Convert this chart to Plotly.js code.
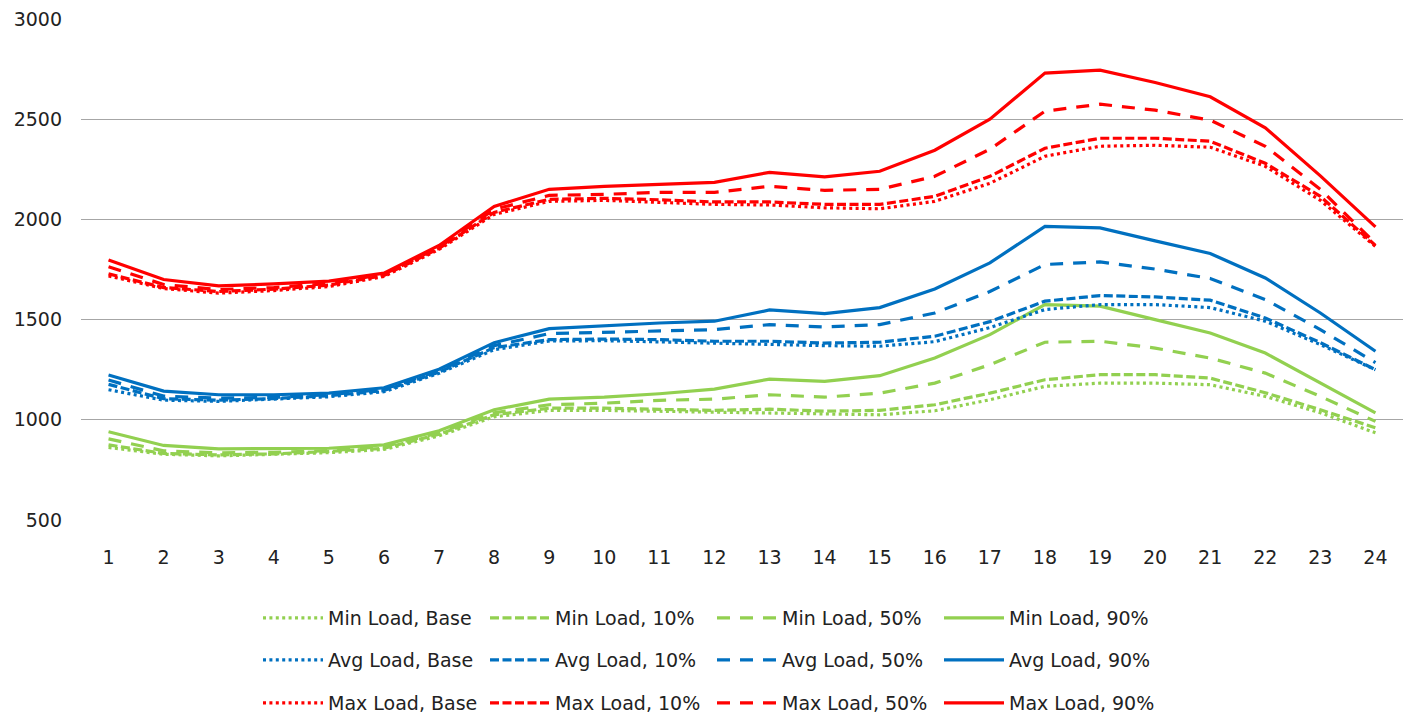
<!DOCTYPE html>
<html>
<head>
<meta charset="utf-8">
<script src="https://cdn.plot.ly/plotly-3.0.1.min.js"></script>
<style>
html,body{margin:0;padding:0;background:#fff;}
#chart{width:1404px;height:716px;}
</style>
</head>
<body>
<div id="chart"></div>
<script>
// Hours of the day
const hours = [1,2,3,4,5,6,7,8,9,10,11,12,13,14,15,16,17,18,19,20,21,22,23,24];

// Min Load series
const minBase = [862, 828, 820, 826, 836, 852, 920, 1015, 1047, 1047, 1042, 1037, 1033, 1030, 1025, 1045, 1100, 1167, 1183, 1183, 1175, 1117, 1035, 935];
const min10   = [875, 832, 825, 830, 842, 858, 928, 1025, 1058, 1058, 1052, 1047, 1053, 1043, 1047, 1075, 1133, 1200, 1225, 1225, 1208, 1135, 1050, 960];
const min50   = [905, 845, 835, 838, 846, 866, 935, 1035, 1075, 1083, 1097, 1103, 1125, 1113, 1133, 1183, 1275, 1387, 1392, 1358, 1308, 1233, 1117, 992];
const min90   = [940, 872, 855, 855, 858, 875, 945, 1050, 1103, 1113, 1130, 1153, 1203, 1192, 1220, 1308, 1425, 1575, 1567, 1500, 1433, 1333, 1183, 1035];

// Avg Load series
const avgBase = [1150, 1098, 1092, 1102, 1115, 1140, 1232, 1350, 1393, 1395, 1388, 1380, 1375, 1370, 1367, 1390, 1460, 1550, 1575, 1575, 1560, 1492, 1375, 1250];
const avg10   = [1177, 1105, 1098, 1106, 1120, 1146, 1238, 1360, 1400, 1403, 1400, 1392, 1392, 1383, 1387, 1417, 1490, 1592, 1620, 1613, 1597, 1508, 1385, 1250];
const avg50   = [1199, 1118, 1108, 1112, 1125, 1152, 1245, 1370, 1430, 1437, 1447, 1450, 1475, 1463, 1475, 1533, 1640, 1775, 1788, 1752, 1705, 1600, 1450, 1285];
const avg90   = [1224, 1143, 1125, 1125, 1133, 1160, 1252, 1385, 1455, 1470, 1483, 1492, 1548, 1530, 1560, 1653, 1783, 1965, 1958, 1893, 1830, 1708, 1533, 1342];

// Max Load series
const maxBase = [1718, 1655, 1632, 1645, 1665, 1715, 1850, 2025, 2090, 2095, 2085, 2075, 2072, 2058, 2053, 2090, 2180, 2315, 2365, 2370, 2360, 2265, 2095, 1865];
const max10   = [1728, 1660, 1640, 1652, 1672, 1720, 1855, 2035, 2100, 2105, 2098, 2087, 2087, 2075, 2075, 2115, 2215, 2355, 2405, 2405, 2390, 2280, 2115, 1870];
const max50   = [1764, 1675, 1650, 1660, 1680, 1726, 1860, 2050, 2120, 2125, 2135, 2135, 2165, 2145, 2150, 2215, 2350, 2540, 2575, 2545, 2495, 2365, 2150, 1880];
const max90   = [1797, 1700, 1668, 1678, 1692, 1732, 1870, 2065, 2150, 2165, 2175, 2185, 2235, 2212, 2240, 2345, 2500, 2730, 2745, 2683, 2612, 2457, 2217, 1963];

const xTickLabels = hours.map(String);
const yTickVals = [500, 1000, 1500, 2000, 2500, 3000];

const GREEN = '#92D050', BLUE = '#0070C0', RED = '#FF0000';
const LW = 3.2;
const DASH = {
  base: '3px,3.4px',
  p10: '9px,3.5px',
  p50: '13px,10px',
  p90: 'solid'
};

const groups = [
  {name: 'Min Load', color: GREEN, legend: 'legend',  data: [minBase, min10, min50, min90]},
  {name: 'Avg Load', color: BLUE,  legend: 'legend2', data: [avgBase, avg10, avg50, avg90]},
  {name: 'Max Load', color: RED,   legend: 'legend3', data: [maxBase, max10, max50, max90]}
];
const suffixes = ['Base', '10%', '50%', '90%'];
const dashes = [DASH.base, DASH.p10, DASH.p50, DASH.p90];

const traces = [];
groups.forEach(g => {
  g.data.forEach((vals, i) => {
    traces.push({
      type: 'scatter',
      mode: 'lines',
      x: hours,
      y: vals,
      name: g.name + ', ' + suffixes[i],
      legend: g.legend,
      line: {color: g.color, width: LW, dash: dashes[i], shape: 'linear'},
      hoverinfo: 'x+y+name'
    });
  });
});

const FONT = 'DejaVu Sans, Liberation Sans, sans-serif';
const legendBase = {
  orientation: 'h',
  xref: 'container', yref: 'container',
  x: 258/1404, xanchor: 'left',
  yanchor: 'middle',
  entrywidth: 152, entrywidthmode: 'pixels',
  itemwidth: 60,
  bgcolor: 'rgba(0,0,0,0)',
  borderwidth: 0,
  font: {family: FONT, size: 19, color: '#222'},
  traceorder: 'normal',
  itemclick: false, itemdoubleclick: false
};

const layout = {
  width: 1404, height: 716,
  margin: {l: 81, r: 1, t: 19, b: 196, pad: 0},
  paper_bgcolor: '#ffffff',
  plot_bgcolor: '#ffffff',
  showlegend: true,
  font: {family: FONT, size: 19, color: '#222'},
  xaxis: {
    range: [0.5, 24.5],
    tickmode: 'array',
    tickvals: hours,
    ticktext: xTickLabels,
    showgrid: false,
    zeroline: false,
    showline: false,
    ticks: '',
    ticklabelstandoff: 24,
    tickfont: {family: FONT, size: 19, color: '#222'},
    fixedrange: true
  },
  yaxis: {
    range: [500, 3000],
    tickmode: 'array',
    tickvals: yTickVals,
    ticktext: yTickVals.map(String),
    showgrid: true,
    gridcolor: '#a6a6a6',
    gridwidth: 1.2,
    zeroline: false,
    showline: false,
    ticks: '',
    ticklabelstandoff: 18,
    tickfont: {family: FONT, size: 19, color: '#222'},
    fixedrange: true
  },
  legend:  Object.assign({}, legendBase, {y: 1 - 618/716}),
  legend2: Object.assign({}, legendBase, {y: 1 - 660/716}),
  legend3: Object.assign({}, legendBase, {y: 1 - 703/716})
};

Plotly.newPlot('chart', traces, layout, {displayModeBar: false, staticPlot: true});
</script>
</body>
</html>
